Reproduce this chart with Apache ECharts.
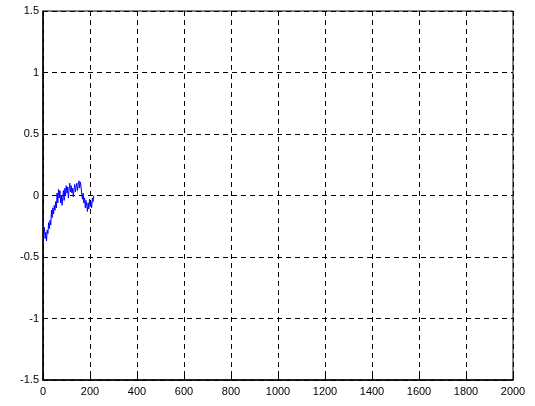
<!DOCTYPE html>
<html>
<head>
<meta charset="utf-8">
<script src="https://cdn.jsdelivr.net/npm/echarts@6/dist/echarts.min.js"></script>
<style>
  html, body { margin: 0; padding: 0; background: #fff; }
  #chart { width: 535px; height: 406px; }
</style>
</head>
<body>
<div id="chart"></div>
<script>
const xs = [0, 3, 6, 9, 12, 15, 18, 21, 24, 27, 30, 33, 36, 39, 42, 45, 48, 51, 54, 57,
  60, 63, 66, 69, 72, 75, 78, 81, 84, 87, 90, 93, 96, 99, 102, 105, 108, 111, 114, 117,
  120, 123, 126, 129, 132, 135, 138, 141, 144, 147, 150, 153, 156, 159, 162, 165, 168, 171, 174, 177,
  180, 183, 186, 189, 192, 195, 198, 201, 204, 207, 210, 213, 216];
const ys = [-0.2, -0.32, -0.26, -0.35, -0.3, -0.37, -0.28, -0.31, -0.22, -0.27, -0.2, -0.24, -0.12, -0.18, -0.1, -0.15, -0.08, -0.12, -0.05, -0.1,
  0.02, -0.06, 0.05, -0.02, 0.04, -0.06, 0.0, -0.08, -0.02, 0.04, -0.04, 0.06, 0.0, 0.08, 0.02, 0.07, -0.02, 0.05, 0.1, 0.03,
  0.08, 0.02, 0.06, -0.01, 0.05, 0.09, 0.03, 0.07, 0.1, 0.04, 0.09, 0.12, 0.06, 0.11, 0.07, 0.01, -0.03, 0.02, -0.06, -0.02,
  -0.1, -0.04, -0.08, -0.13, -0.06, -0.11, -0.03, -0.09, -0.05, -0.1, -0.02, -0.05, 0.0];

const chart = echarts.init(document.getElementById('chart'));

const gridLine = { show: true, lineStyle: { color: '#000', type: [5, 4], width: 1 } };
const axisText = { color: '#000', fontFamily: 'Liberation Sans', fontSize: 11 };

chart.setOption({
  animation: false,
  backgroundColor: '#fff',
  grid: { left: 43, right: 22, top: 11, bottom: 26, show: true, borderColor: '#000', borderWidth: 1, backgroundColor: 'transparent' },
  xAxis: {
    type: 'value', min: 0, max: 2000, interval: 200,
    axisLine: { show: true, onZero: false, lineStyle: { color: '#000', width: 1.5 } },
    axisTick: { show: true, inside: true, length: 4, lineStyle: { color: '#000' } },
    axisLabel: Object.assign({ formatter: v => String(v), margin: 6 }, axisText),
    splitLine: gridLine
  },
  yAxis: {
    type: 'value', min: -1.5, max: 1.5, interval: 0.5,
    axisLine: { show: true, onZero: false, lineStyle: { color: '#000', width: 1.5 } },
    axisTick: { show: true, inside: true, length: 4, lineStyle: { color: '#000' } },
    axisLabel: Object.assign({ formatter: v => String(v), margin: 4 }, axisText),
    splitLine: gridLine
  },
  series: [{
    type: 'line',
    data: xs.map((x, i) => [x, ys[i]]),
    showSymbol: false,
    lineStyle: { color: '#0000ff', width: 1 },
    z: 3
  }]
});
</script>
</body>
</html>
